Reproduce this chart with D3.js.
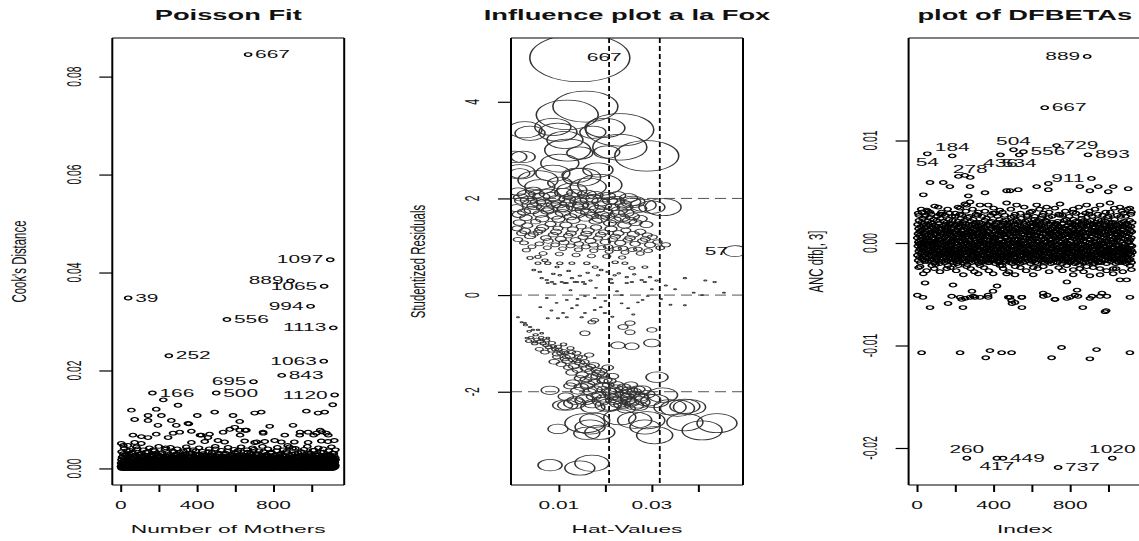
<!DOCTYPE html>
<html>
<head>
<meta charset="utf-8">
<script src="https://cdn.jsdelivr.net/npm/d3@7"></script>
<style>
body { margin: 0; background: #fff; }
svg text { font-family: "Liberation Sans", Arial, sans-serif; fill: #111; }
</style>
</head>
<body>
<svg id="chart" width="1139" height="541"></svg>
<script>
// Cook's distance for obs 1..1125 (units of 1e-4)
const cookD = [
4,11,2,18,7,0,23,9,3,14,6,1,30,12,5,0,16,8,2,21,10,3,27,6,13,
1,8,19,4,12,0,9,36,2,15,6,1,10,24,5,0,13,7,3,17,9,2,29,6,11,
7,2,14,0,22,5,10,1,18,3,33,8,0,12,6,20,2,9,15,1,26,4,11,0,8,
3,16,6,1,24,9,0,13,4,19,2,40,7,11,1,21,5,0,15,8,3,28,10,2,17,
9,0,12,5,20,1,7,31,3,14,0,10,6,23,2,18,4,9,0,16,7,2,25,11,5,
2,19,8,0,13,4,27,1,10,6,21,3,15,0,9,34,5,12,2,17,7,1,22,4,14,
6,1,15,3,25,0,11,8,2,18,5,13,0,29,7,4,20,1,10,6,38,3,12,0,16,
0,10,4,22,7,1,14,5,30,2,9,17,3,0,12,24,6,1,19,8,2,13,5,27,3,
11,3,18,0,8,26,4,13,1,20,6,0,15,9,2,32,5,11,3,21,0,7,16,4,10,
5,23,1,12,6,0,19,8,3,14,42,2,10,5,17,1,25,7,0,13,4,20,9,2,15,
8,2,16,4,28,0,11,6,1,21,9,3,14,0,24,5,12,2,18,7,1,35,10,4,13,
1,14,6,0,19,3,10,26,5,1,16,8,2,22,4,0,12,30,6,9,2,17,5,11,0,
12,4,20,1,9,15,0,7,33,3,13,5,18,2,10,0,23,6,1,14,8,27,3,11,4,
3,17,0,11,6,24,2,13,5,0,19,9,1,29,4,15,7,2,21,0,10,5,16,38,2,
9,1,13,5,22,0,8,17,3,12,6,1,26,10,4,18,0,14,7,2,31,5,11,1,20,
4,15,2,10,0,19,7,3,25,11,1,16,5,0,21,8,2,13,36,6,0,17,9,3,12,
0,11,6,23,2,14,1,9,18,4,0,28,7,12,3,20,5,1,15,8,2,24,10,0,13,
7,2,19,0,12,5,30,3,10,1,16,6,22,0,9,14,4,1,26,11,3,18,0,8,15,
2,13,5,21,1,9,0,17,6,34,3,12,1,19,7,0,24,10,4,15,2,11,28,5,0,
10,3,16,0,8,27,4,13,2,20,6,1,14,9,0,23,5,18,2,11,40,7,1,16,4,
6,0,12,3,25,8,1,15,5,19,0,10,31,4,13,2,22,7,0,17,9,3,12,1,21,
1,18,7,2,14,0,11,26,4,9,16,3,0,20,6,12,1,29,8,2,15,5,0,23,10,
13,4,0,22,6,10,2,17,35,1,12,5,19,0,8,25,3,14,6,1,20,9,2,11,0,
5,16,2,9,0,24,7,13,1,18,4,27,10,0,15,6,2,21,11,3,0,16,8,32,4,
0,10,19,3,12,5,1,23,8,0,14,6,20,2,11,37,4,9,1,17,7,0,13,26,3,
8,2,15,0,21,6,11,1,18,4,28,9,0,14,5,22,2,12,7,0,19,3,10,1,24,
3,12,6,25,0,9,16,2,13,5,0,20,8,33,1,11,4,17,0,26,6,2,14,9,1,
11,0,18,4,7,22,1,14,6,29,3,10,0,16,8,2,24,5,12,1,19,39,7,0,15,
4,20,1,13,9,0,17,5,26,2,11,7,1,21,4,15,0,30,8,3,12,6,18,2,10,
0,14,7,2,23,11,1,16,4,0,19,8,27,3,12,5,0,22,9,1,15,6,34,2,13,
9,3,17,0,12,6,24,2,15,1,20,5,10,0,28,7,3,13,1,18,8,0,25,4,11,
2,16,5,21,0,10,3,19,7,1,14,31,4,11,0,23,6,2,17,9,0,13,5,20,1,
12,0,9,4,26,1,15,7,2,18,5,0,22,10,3,36,6,14,1,8,20,2,11,4,16,
5,19,2,11,0,24,8,1,13,6,29,3,16,0,10,5,21,1,12,7,2,18,4,27,0,
7,1,14,3,20,9,0,17,5,12,2,25,8,1,15,4,0,19,11,32,3,13,6,0,22,
1,12,6,23,2,10,16,0,8,27,4,14,1,20,7,3,11,0,18,5,24,9,2,15,41,
10,4,18,0,13,5,1,21,8,2,16,30,6,11,0,19,3,14,7,1,25,5,12,0,17,
3,15,7,1,22,0,11,4,26,9,2,17,5,13,1,20,8,0,14,34,6,2,18,10,4,
0,9,19,5,12,2,24,7,1,16,4,11,0,28,6,13,3,21,9,1,15,0,23,7,12,
6,21,3,14,0,10,5,31,2,17,8,1,12,4,22,0,9,16,3,26,11,2,14,5,19,
2,11,25,0,8,15,4,1,20,6,13,3,37,7,0,18,10,2,23,5,12,1,16,8,27,
14,5,0,17,9,2,22,6,11,1,19,4,28,0,13,7,3,24,10,1,15,6,20,2,9,
4,18,8,1,26,3,12,0,16,7,33,2,14,5,21,1,10,6,0,19,12,3,25,8,15,
11,2,20,6,13,0,9,23,4,17,1,29,7,12,3,18,0,15,5,22,9,2,27,11,6,
3,16,1,24,8,12,0,19,5,31,14,2,21,7,10,1,26,4,17,9,13,3,22,6,18
];

// larger Cook's distances: [obs, value x1e-4]
const cookPts = [
[667,845],[1097,426],[889,383],[1065,372],[39,348],[994,331],[556,304],[1113,287],
[252,230],[1063,219],[843,190],[695,177],[166,154],[500,154],[1120,150],
[56,119],[73,100],[143,108],[186,121],[213,108],[223,140],[143,98],[195,88],[265,98],
[291,88],[300,129],[352,92],[357,91],[401,108],[492,115],[588,108],[623,96],[701,113],
[736,115],[597,84],[658,78],[780,86],[902,88],[972,117],[1033,113],[1068,115],[1110,130],
[64,68],[108,65],[143,63],[186,70],[3,51],[38,47],[73,53],[108,51],[248,63],[274,72],
[309,74],[370,76],[422,68],[457,63],[536,74],[571,80],[623,78],[745,74],[859,68],[937,68],
[981,74],[1024,72],[1077,72],[1118,57],
[370,53],[440,55],[509,57],[544,54],[649,56],[701,53],[754,55],[806,57],[841,54],[981,53],
[1050,56],[1085,55],
[14,47],[465,70],[415,68],[652,78],[625,68],[746,72],[712,54],[874,47],[909,54],[939,74],
[1044,78],[1010,68],[1053,75],[1087,68]
];
// ragged top of the dense band: [obs, value x1e-4]
const cookMid = [
[5,34],[18,41],[29,28],[47,37],[60,31],[82,44],[95,29],[118,38],[131,33],[150,42],[162,27],
[177,36],[199,45],[210,30],[232,39],[245,28],[261,43],[279,34],[296,40],[314,27],[328,36],
[343,44],[361,30],[379,38],[392,29],[410,42],[428,35],[446,27],[463,40],[478,32],[495,45],
[513,29],[527,37],[548,31],[562,43],[579,28],[594,39],[611,34],[630,44],[644,27],[661,38],
[679,31],[690,42],[708,29],[725,36],[742,45],[758,28],[771,40],[789,33],[803,27],[820,43],
[836,30],[851,38],[868,35],[883,44],[897,29],[915,41],[928,32],[944,27],[960,39],[977,45],
[991,30],[1006,37],[1019,28],[1035,42],[1048,33],[1061,40],[1074,27],[1090,36],[1103,44],
[1116,31],[1124,38],
[12,24],[40,26],[70,22],[105,25],[140,23],[170,26],[205,24],[240,22],[270,25],[305,23],
[335,26],[370,24],[400,22],[435,25],[470,23],[505,26],[540,24],[570,22],[605,25],[640,23],
[670,26],[700,24],[735,22],[765,25],[795,23],[830,26],[860,24],[890,22],[920,25],[955,23],
[985,26],[1015,24],[1045,22],[1080,25],[1110,23]
];
const cookLabels = [667,1097,889,1065,39,994,556,1113,252,1063,843,695,166,500,1120];
const cookLabelPos = [4,2,2,2,4,2,4,2,4,2,4,2,4,4,2];

// influence plot: [hat x1e-4, studentized residual x1e-2, Cook's D x1e-4]
const inflPts = [
[145,491,845],[157,390,357],[118,373,325],[38,335,76],[87,348,110],[231,342,391],[173,337,57],
[113,321,110],[289,288,346],[231,306,247],[23,286,49],[145,294,57],[203,296,57],[102,273,122],
[87,252,98],[139,248,76],[188,228,164],[16,252,34],[59,224,76],[102,232,49],[324,182,110],
[259,193,49],[281,186,57],[300,182,57],[27,342,98],[98,337,122],[199,346,135],[119,300,179],
[184,259,76],[149,244,122],[55,238,135],[163,224,110],[128,217,76],[5,286,49],[16,255,76],
[12,214,22],[30,208,27],[45,216,20],[62,203,25],[78,210,30],[95,198,22],[110,212,27],[128,204,20],
[142,195,25],[160,208,30],[175,200,22],[190,193,27],[205,205,20],[222,196,25],[238,188,22],
[250,201,27],[20,195,17],[38,188,22],[55,192,20],[70,182,25],[88,187,17],[105,180,22],[120,190,20],
[135,183,25],[150,176,17],[168,185,22],[182,178,20],[197,172,25],[215,182,17],[230,175,22],
[245,170,20],[8,180,17],[25,172,14],[42,176,20],[60,168,17],[75,174,14],[92,165,20],[108,170,17],
[125,162,14],[140,168,20],[157,160,17],[172,165,14],[188,158,20],[205,163,17],[220,156,14],
[236,160,20],[252,154,17],[265,150,14],
[18,202,18],[35,196,24],[52,209,21],[68,191,19],[85,204,26],[100,188,20],[118,199,23],[133,211,19],
[147,187,22],[165,197,27],[178,207,21],[195,185,24],[210,195,19],[226,206,23],[242,182,20],
[258,193,24],[272,179,21],[14,167,15],[29,160,13],[47,184,18],[64,158,15],[81,177,18],[99,157,14],
[113,179,19],[131,155,15],[146,185,20],[162,171,17],[179,153,14],[193,166,18],[210,149,14],
[226,168,18],[241,145,15],[258,163,17],[275,158,16],[288,146,14],
[15,150,12],[32,144,10],[50,152,8],[65,140,12],[82,147,10],[98,138,8],[115,145,12],[130,136,10],
[148,142,8],[163,133,12],[180,140,10],[196,130,8],[212,137,12],[228,128,10],[244,134,8],[260,126,12],
[275,131,10],[290,124,8],
[20,128,8],[38,122,10],[55,130,7],[72,118,9],[88,125,8],[104,116,10],[120,123,7],[136,114,9],
[152,120,8],[168,112,10],[184,118,7],[200,110,9],[216,116,8],[232,108,10],[248,114,7],[264,106,9],
[280,112,8],[296,104,10],[312,110,7],
[10,138,9],[27,133,10],[45,126,8],[60,135,10],[77,112,8],[94,131,10],[111,109,8],[126,128,9],
[143,106,7],[159,127,10],[174,104,8],[190,125,9],[206,100,7],[221,121,9],[238,97,7],[253,118,9],
[270,95,6],[286,116,8],[301,120,8],[318,98,6],[330,104,7],[12,115,7],[30,93,5],[66,86,5],[101,85,5],
[137,83,5],[170,81,5],[203,80,5],[236,78,4],
[25,108,6],[42,100,5],[58,106,6],[75,98,5],[92,104,6],[108,96,5],[125,102,6],[142,94,5],[158,100,6],
[175,92,5],[192,98,6],[208,90,5],[225,96,6],[242,88,5],[258,94,6],[275,86,5],[292,92,6],
[38,77,3],[55,79,3],[70,72,3],[55,66,2.5],[76,66,3],[102,66,3],[128,66,2.5],[160,66,3],[178,58,2.5],
[221,68,3],[242,66,2.5],[257,56,3],[285,58,2.5],
[63,35,0.8],[74,31,0.7],[85,27,0.8],[102,41,0.9],[113,25,0.7],[128,35,0.8],[139,27,0.7],[152,27,0.8],
[162,46,0.9],[184,41,0.8],[205,48,0.9],[220,41,0.8],[246,37,0.8],[257,27,0.7],[278,31,0.8],[296,37,0.8],
[371,35,0.8],[435,27,0.8],[76,25,0.6],[91,23,0.6],[106,27,0.6],[117,25,0.6],[134,27,0.6],[156,23,0.6],
[214,25,0.7],[246,25,0.7],[285,27,0.7],
[46,52,1],[59,48,0.9],[88,44,1],[96,58,1.2],[121,50,1],[145,40,0.8],[168,30,0.7],[191,52,1],[212,33,0.7],
[229,45,0.9],[262,43,0.8],[310,30,0.7],[330,20,0.6],[350,12,0.5],[390,5,0.5],[320,-8,0.4],[340,-20,0.5],
[270,-15,0.4],[200,-12,0.4],[140,-8,0.4],[95,-16,0.4],[60,-25,0.5],[84,-32,0.5],[190,-25,0.4],
[215,-45,0.6],[260,-40,0.6],[280,-10,0.4],[300,12,0.5],[180,15,0.5],[125,10,0.5],[225,8,0.5],
[415,30,0.6],[455,5,0.5],
[74,-6,0.3],[117,-10,0.3],[156,-2,0.3],[177,-6,0.3],[235,0,0.3],[291,-2,0.3],[371,-21,0.5],[408,0,0.5],
[128,-27,0.4],[139,-21,0.4],[156,-37,0.5],[109,-37,0.5],[177,-31,0.5],[235,-17,0.4],[249,-27,0.5],
[76,-48,0.6],[98,-48,0.6],[117,-46,0.6],[149,-46,0.7],[199,-37,0.7],
[12,-46,0.5],[20,-56,0.6],[27,-58,0.6],[38,-66,0.7],[44,-72,0.8],[55,-72,0.8],[63,-79,1],[31,-89,0.9],
[48,-97,1.1],[63,-93,1],[76,-89,1.1],
[35,-95,3],[48,-100,3],[60,-96,4],[72,-104,3],[85,-99,4],[98,-107,4],[110,-102,3],[125,-110,4],
[58,-112,5],[70,-118,6],[84,-114,5],[96,-122,7],[110,-117,6],[124,-126,8],[138,-120,6],[150,-130,8],
[165,-124,7],[90,-138,9],[105,-143,8],[118,-136,10],[132,-147,10],[145,-140,9],[160,-152,12],
[175,-145,10],[190,-158,13],[205,-150,11],[128,-160,12],[150,-165,13],[170,-170,12],[185,-162,14],
[200,-175,15],[215,-168,13],[130,-182,15],[148,-190,17],[162,-185,18],[178,-195,17],[192,-188,19],
[208,-200,20],[222,-193,18],[238,-205,21],[252,-198,22],[268,-208,21],[280,-196,24],
[115,-210,20],[135,-218,22],[155,-214,24],[172,-225,25],[190,-220,24],[210,-230,26],[228,-224,27],
[245,-235,28],[262,-228,30],
[40,-88,2],[52,-92,2.5],[66,-100,3],[78,-108,3.5],[92,-112,4],[104,-120,5],[116,-128,5],[130,-134,6],
[142,-128,5],[155,-138,7],[168,-148,8],[180,-155,9],[195,-165,10],[210,-178,12],[225,-185,13],
[240,-190,14],[255,-186,15],[270,-195,17],[95,-128,5],[112,-132,6],[140,-155,9],[158,-175,11],
[176,-180,12],[196,-196,15],[214,-210,17],[232,-214,19],[250,-218,20],[166,-200,15],[186,-206,17],
[120,-150,7],[145,-172,10],
[28,-62,1.2],[36,-75,1.5],[50,-82,2],[62,-88,2.2],[74,-94,2.5],[88,-106,3],[100,-113,3.5],[114,-120,4],
[128,-118,4.5],[140,-136,5.5],[152,-145,6],[166,-158,7.5],[180,-168,9],[194,-178,10],[206,-186,11],
[220,-198,13],[235,-196,14],[248,-210,16],[262,-200,17],[276,-212,19],[290,-205,20],[160,-188,14],
[175,-210,18],[196,-214,19],[218,-218,22],[236,-226,24],[254,-222,25],[272,-230,27],[140,-198,16],
[124,-188,13],
[81,-352,49],[145,-358,76],[171,-348,98],[98,-277,34],[167,-273,76],[160,-286,57],[188,-284,76],
[177,-259,76],[263,-259,98],[231,-253,87],[306,-290,110],[371,-263,110],[408,-280,135],[440,-265,135],
[339,-232,87],[371,-230,76],[306,-219,66],[270,-222,49],[119,-228,34],[156,-217,34],[311,-170,41],
[81,-197,27],[216,-203,34],[249,-203,22],[285,-273,76],[156,-265,135],[289,-259,110],
[108,-228,34],[134,-224,41],[173,-232,49],[206,-228,57],[231,-213,49],[263,-213,66],[291,-217,57],
[323,-207,76],[355,-234,98],[381,-232,87],
[227,-104,17],[257,-106,17],[300,-99,22],[238,-66,8],[253,-58,8],[253,-77,8],[300,-72,8],[156,-79,8],
[177,-52,5],[171,-56,5],
[479,91,45]
];
const inflLabels = ["667", "57"];
const inflLabelAt = [[145,491],[479,91]];
const inflLabelPos = [4, 2];
const hatCutoffs = [0.0208, 0.0317];
const residRefs = [-2, 0, 2];

// DFBETA for ANC coefficient, obs 1..1125 (units of 1e-4)
const dfbD = [
5,-12,18,-3,9,-17,1,14,-8,22,-1,-14,7,11,-6,3,-19,16,-10,0,12,-4,20,-15,6,
-9,13,-2,24,-13,4,-7,17,0,-16,10,-5,19,2,-11,8,-18,15,-1,27,-8,5,-14,11,-3,
16,-6,3,-15,21,-10,8,-2,13,-18,1,18,-7,-12,25,6,-4,10,-17,14,-9,2,20,-13,7,
-1,11,-16,5,-8,19,-3,15,-11,0,23,-6,9,-19,12,-2,4,-14,17,-9,8,-21,1,13,-5,
9,-15,22,-4,2,-10,16,-7,6,-17,11,-1,-13,19,3,-8,14,-20,7,0,-11,24,-5,10,-16,
3,-9,14,-18,8,28,-2,-12,17,-5,1,-15,10,5,-7,21,-13,-3,15,-19,6,-10,12,-1,18,
-14,7,-4,20,-11,2,13,-17,-6,9,-22,16,0,-9,11,-3,23,-15,4,-7,18,-12,8,-1,-18,
12,-5,19,-10,1,-16,6,15,-8,-2,22,-13,10,-19,4,14,-6,-11,17,2,-14,9,-4,26,-9,
0,-17,11,5,-12,18,-7,3,-20,13,-3,8,-15,21,-1,-10,16,6,-18,10,-5,19,-13,2,-8,
15,-2,-11,24,-6,9,-16,1,12,-9,17,-14,5,-4,20,-19,7,-1,13,-12,3,-7,22,-17,10,
-6,16,-13,2,19,-9,6,-18,10,-3,14,-1,-21,8,-12,25,-5,11,-16,3,17,-8,-2,12,-15,
8,-10,3,-14,21,-4,15,-7,0,-19,11,6,-12,18,-2,-16,9,-8,23,-1,4,-13,14,-6,19,
-3,12,-18,7,-9,16,-15,4,20,-11,-5,13,1,-17,9,-7,27,-13,5,-2,15,-20,10,0,-10,
20,-7,13,-1,-15,5,11,-12,17,-4,2,-19,8,14,-9,-3,19,-16,6,-11,12,1,-18,16,-6,
-12,4,-8,22,0,-14,9,-5,15,-18,7,-2,24,-10,3,-15,12,-7,18,-1,-19,11,-4,6,-13,
10,-19,17,-6,3,-11,20,-2,-14,8,-8,14,-17,1,21,-5,-12,7,-9,16,-3,29,-15,4,-10,
2,-13,6,-16,18,-1,-9,12,-20,5,15,-7,-3,19,-12,9,-18,0,13,-6,-14,20,-2,8,-17,
-8,15,-4,11,-19,23,3,-12,7,-6,16,-15,10,-1,-10,4,17,-13,1,-22,14,-5,9,-11,21,
13,-3,-16,8,-7,1,19,-18,11,-2,6,-10,22,-14,5,-9,15,-4,-17,12,0,-12,18,-6,3,
-15,9,-1,17,-11,-5,14,2,-19,20,-8,7,-13,11,-3,25,-16,4,-7,16,-12,1,-20,10,-4,
6,-11,21,-7,0,-17,12,-3,9,-14,18,-9,3,-18,14,-1,-6,10,-15,7,22,-10,-2,15,-19,
-2,18,-10,4,-16,13,-8,20,-4,1,-13,11,-20,6,17,-7,-1,24,-12,3,-17,9,-5,13,-9,
11,-6,2,-19,15,-12,5,-1,19,-15,8,-4,12,-10,0,-18,21,-8,14,-3,5,-14,16,-11,26,
-10,14,-15,7,-3,22,-9,10,-17,-2,13,4,-12,19,-6,8,-20,16,-1,-13,11,-7,2,-16,17,
4,-18,9,-8,20,-1,-14,16,3,-11,-5,23,-16,7,12,-4,-9,18,-19,5,-2,14,-12,21,-7,
-13,8,-5,15,-20,11,1,-9,22,-6,17,-16,2,-3,10,-14,19,-8,6,-17,13,-1,24,-10,3,
17,-4,12,-12,6,-18,14,-2,-7,9,-15,20,-10,4,-19,15,-5,1,-13,22,-8,7,-3,-16,12,
-7,21,-14,1,-10,16,-4,11,-18,6,-1,13,-8,25,-13,3,10,-17,8,-6,18,-11,0,-20,14,
9,-1,-17,13,-6,4,20,-13,8,-9,15,-3,-19,11,1,-12,17,-7,-15,10,-2,19,-14,5,-5,
-16,12,3,-11,19,-7,-2,14,-19,21,-5,9,-14,-1,16,-10,5,-16,13,-4,27,-12,6,-8,11,
1,-9,16,-15,7,-3,12,-20,10,-6,19,-12,4,15,-17,8,-1,-11,22,-7,3,-18,14,-2,-13,
14,-14,5,-5,23,-10,-16,9,-3,17,-9,0,12,-18,6,20,-6,-13,11,-1,15,-19,8,-10,2,
-4,19,-12,10,-18,2,15,-8,-14,7,-2,18,-17,13,-7,-11,23,-3,4,-15,9,-9,17,-20,6,
18,-8,-1,21,-13,11,-6,-19,16,-4,8,-15,1,20,-10,12,-16,5,-2,14,-21,10,-7,3,-12,
-11,3,13,-17,9,-2,-12,18,-9,24,-14,5,-6,16,-1,-19,11,-5,19,-13,2,-8,22,-16,7,
7,-16,20,-4,-10,14,-19,6,1,-12,17,-7,-15,10,-3,21,-11,13,-18,4,-5,16,-14,0,28,
-5,10,-13,17,-8,3,22,-15,12,-1,-18,9,-11,19,-4,6,-14,15,-7,-20,11,1,-9,18,-3,
12,-12,4,-20,15,-6,8,-1,-16,20,-10,13,2,-17,10,-3,-8,18,-13,7,-19,23,-4,12,-15,
-18,15,-7,9,-2,19,-14,3,-9,13,6,-19,22,-5,-12,11,-1,-16,14,-9,5,-3,17,-11,0,
5,-3,18,-13,11,-17,2,-8,21,-11,-4,16,-12,8,-20,14,-6,25,-14,1,-7,12,-17,9,-1,
-9,20,-6,14,-15,7,-11,17,-2,-18,10,-7,15,-13,3,-5,19,-10,6,-16,13,-1,20,-12,4,
16,-10,1,-16,12,-4,23,-14,5,-8,14,-20,9,-2,18,-15,-7,11,-3,17,-12,3,-18,8,-6,
-2,11,-19,6,-9,15,-13,10,-5,19,-17,2,-10,26,-6,9,-15,4,-11,20,-4,-19,13,-8,16,
8,-15,13,-3,21,-12,-7,16,-18,4,-1,18,-14,11,-9,-4,15,-20,7,-13,19,-6,10,-17,1,
-14,6,-8,17,-11,1,14,-17,9,-5,22,-10,3,-16,12,-2,-12,16,-7,5,-19,11,-3,20,-9
];

// larger DFBETAs: [obs, value x1e-4]
const dfbPts = [
[889,182],[667,132],[184,85],[54,87],[504,91],[556,89],[729,95],[893,86],[278,64],[436,86],
[534,86],[911,63],[260,-210],[417,-210],[449,-210],[737,-219],[1020,-210],
[33,47],[68,59],[137,59],[172,55],[216,65],[277,55],[268,46],[355,49],[468,51],[486,51],[529,52],
[625,55],[686,58],[686,52],[851,55],[903,51],[947,55],[999,50],[1025,55],[1103,53],[250,66],
[51,32],[111,35],[225,34],[260,37],[329,37],[372,37],[433,32],[468,39],[520,37],[625,37],[677,35],
[747,38],[816,33],[886,37],[956,37],[1008,39],[1060,35],[1112,34],[277,40],[250,38],
[6,29],[26,30],[68,30],[120,28],[170,29],[224,28],[320,30],[407,29],[512,28],[590,30],[660,29],
[740,28],[815,30],[880,29],[945,28],[1010,30],[1080,29],[1120,30],
[42,-39],[188,-41],[418,-42],[783,-38],[2,-51],[31,-53],[225,-53],[251,-54],[277,-53],[303,-53],
[329,-53],[371,-51],[287,-47],[397,-47],[486,-53],[512,-58],[548,-53],[659,-49],[680,-51],[721,-55],
[783,-54],[836,-46],[841,-52],[914,-52],[966,-49],[992,-52],[1112,-53],[68,-63],[162,-59],[240,-63],
[496,-59],[548,-63],[866,-63],[982,-67],[988,-66],
[16,-23],[77,-22],[155,-25],[216,-22],[259,-23],[329,-22],[433,-22],[512,-23],[607,-24],[660,-23],
[782,-22],[816,-26],[886,-23],[956,-25],[1025,-25],[1112,-22],[33,-30],[242,-31],[320,-30],[398,-30],
[468,-30],[512,-31],[607,-31],[816,-31],[903,-32],[956,-31],[1025,-30],[1060,-36],[1095,-36],
[24,-107],[225,-107],[381,-105],[442,-107],[494,-107],[359,-112],[703,-112],[755,-102],[903,-113],
[938,-104],[1112,-107],
[181,-52],[233,-55],[294,-52],[372,-53],[477,-53],[494,-56],[547,-53],[660,-52],[720,-55],[799,-53],
[825,-51],[903,-54],[956,-52]
];
// edges of the dense band: [obs, value x1e-4]
const dfbMid = [
[10,27],[22,33],[40,26],[58,31],[75,28],[92,36],[105,26],[128,30],[146,27],[160,33],[183,26],
[200,29],[214,35],[236,27],[255,31],[273,26],[290,33],[308,28],[340,26],[355,31],[385,27],[400,34],
[420,26],[446,30],[458,27],[490,33],[505,26],[540,29],[560,35],[575,27],[600,31],[615,26],[640,33],
[655,27],[690,30],[705,26],[720,34],[760,27],[775,31],[795,26],[830,29],[845,35],[860,27],[900,31],
[915,26],[930,33],[970,27],[985,30],[1000,26],[1030,34],[1045,27],[1070,31],[1090,26],[1100,33],
[1117,28],
[8,-24],[50,-27],[90,-25],[120,-28],[175,-24],[205,-27],[280,-25],[300,-28],[350,-24],[375,-27],
[450,-25],[480,-28],[540,-24],[570,-27],[630,-25],[690,-28],[740,-24],[760,-27],[850,-25],[870,-28],
[920,-24],[990,-27],[1040,-25],[1075,-28],[1120,-26]
];
const dfbLabels = [889,667,184,54,504,556,729,893,278,436,534,911,260,417,449,737,1020];
const dfbLabelPos = [2,4,3,1,3,4,4,4,3,1,1,2,3,1,4,4,3];

// axes
const idxTicks = [0,200,400,600,800,1000];
const idxLabels = [0,400,800];
const cookTicks = [0,0.02,0.04,0.06,0.08];
const hatTicks = [0.01,0.02,0.03,0.04];
const hatLabels = [0.01,0.03];
const residTicks = [-2,0,2,4];
const dfbTicks = [-0.02,-0.01,0,0.01];
const nObs = 1125;

// ---------------------------------------------------------------
const svg = d3.select("#chart");
const plotTop = 38, plotBottom = 485;
const stretch = 1.8; // the figure is wider than tall: round marks come out as ellipses

const tickSt = { size: 11, kx: 1.9, ky: 0.94 };
const titleSt = { size: 15, kx: 1.82, ky: 1.0, bold: true };
const axisSt = { size: 12, kx: 1.9, ky: 0.95 };
const yAxisSt = { size: 12, kx: 1.7, ky: 0.95 };

function stext(g, x, y, s, st, anchor, rot) {
	g.append("text")
		.attr("transform", "translate(" + x + "," + y + ") scale(" + st.kx + "," + st.ky + ")" + (rot ? " rotate(-90)" : ""))
		.attr("text-anchor", anchor || "middle")
		.attr("dy", "0.35em")
		.attr("font-size", st.size)
		.attr("font-weight", st.bold ? "bold" : null)
		.text(s);
}

function frame(p, id) {
	const g = svg.append("g");
	const x = d3.scaleLinear().domain(p.xDomain).range([p.left, p.right]);
	const y = d3.scaleLinear().domain(p.yDomain).range([plotBottom, plotTop]);

	const xa = g.append("g").attr("transform", "translate(0," + plotBottom + ")")
		.call(d3.axisBottom(x).tickValues(p.xTicks).tickSize(7).tickFormat(""));
	xa.select(".domain").remove();
	xa.selectAll("line").attr("stroke", "#000").attr("stroke-width", 2);

	const ya = g.append("g").attr("transform", "translate(" + p.left + ",0)")
		.call(d3.axisLeft(y).tickValues(p.yTicks).tickSize(13).tickFormat(""));
	ya.select(".domain").remove();
	ya.selectAll("line").attr("stroke", "#000").attr("stroke-width", 1.2);

	p.xLabels.forEach((v) => stext(g, x(v), 505, p.xFmt(v), tickSt));
	p.yTicks.forEach((v) => stext(g, p.left - 39, y(v), p.yFmt(v), tickSt, "middle", true));

	stext(g, (p.left + p.right) / 2, 15, p.title, titleSt);
	stext(g, (p.left + p.right) / 2, 529, p.xTitle, axisSt);
	stext(g, p.left - 93, (plotTop + plotBottom) / 2, p.yTitle, yAxisSt, "middle", true);

	svg.append("clipPath").attr("id", id)
		.append("rect").attr("x", p.left).attr("y", plotTop)
		.attr("width", p.right - p.left).attr("height", plotBottom - plotTop);
	const body = g.append("g").attr("clip-path", "url(#" + id + ")");

	// box
	const box = g.append("g").attr("stroke", "#000").attr("fill", "none");
	box.append("line").attr("x1", p.left).attr("x2", p.left).attr("y1", plotTop).attr("y2", plotBottom).attr("stroke-width", 2);
	box.append("line").attr("x1", p.right).attr("x2", p.right).attr("y1", plotTop).attr("y2", plotBottom).attr("stroke-width", 2);
	box.append("line").attr("x1", p.left).attr("x2", p.right).attr("y1", plotTop).attr("y2", plotTop).attr("stroke-width", 1.2);
	box.append("line").attr("x1", p.left).attr("x2", p.right).attr("y1", plotBottom).attr("y2", plotBottom).attr("stroke-width", 1.2);

	return { x, y, g, body };
}

function dots(body, data, x, y) {
	body.selectAll(null)
		.data(data)
		.enter()
		.append("circle")
		.attr("transform", (d) => "translate(" + x(d[0]) + "," + y(d[1]) + ") scale(" + stretch + ",1)")
		.attr("r", 1.9)
		.attr("fill", "none")
		.attr("stroke", "#000")
		.attr("stroke-width", 1.05);
}

function pointLabel(g, px, py, s, pos) {
	if (pos === 4) stext(g, px + 7, py, s, tickSt, "start");
	else if (pos === 2) stext(g, px - 7, py, s, tickSt, "end");
	else if (pos === 3) stext(g, px, py - 8.5, s, tickSt, "middle");
	else stext(g, px, py + 8.5, s, tickSt, "middle");
}

const fmt2 = (v) => v.toFixed(2);
const fmtInt = (v) => String(v);

// ---- Panel 1: Cook's distance
const xPad = 0.04 * (nObs - 1);
const cookMax = 845e-4;
const p1 = frame({
	left: 112.3, right: 344.2,
	xDomain: [1 - xPad, nObs + xPad], yDomain: [-0.04 * cookMax, 1.04 * cookMax],
	xTicks: idxTicks, xLabels: idxLabels, xFmt: fmtInt,
	yTicks: cookTicks, yFmt: fmt2,
	title: "Poisson Fit", xTitle: "Number of Mothers", yTitle: "Cook's Distance"
}, "clip1");

dots(p1.body, cookD.map((v, i) => [i + 1, v * 1e-4]), p1.x, p1.y);
dots(p1.body, cookMid.map((d) => [d[0], d[1] * 1e-4]), p1.x, p1.y);
dots(p1.body, cookPts.map((d) => [d[0], d[1] * 1e-4]), p1.x, p1.y);
cookLabels.forEach((obs, k) => {
	const d = cookPts.find((c) => c[0] === obs);
	pointLabel(p1.g, p1.x(d[0]), p1.y(d[1] * 1e-4), String(obs), cookLabelPos[k]);
});

// ---- Panel 2: influence plot
const p2 = frame({
	left: 511, right: 743,
	xDomain: [-0.0003, 0.0496], yDomain: [-3.93, 5.32],
	xTicks: hatTicks, xLabels: hatLabels, xFmt: fmt2,
	yTicks: residTicks, yFmt: fmtInt,
	title: "Influence plot a la Fox", xTitle: "Hat-Values", yTitle: "Studentized Residuals"
}, "clip2");

residRefs.forEach((r) => {
	p2.body.append("line")
		.attr("x1", 511).attr("x2", 743).attr("y1", p2.y(r)).attr("y2", p2.y(r))
		.attr("stroke", "#555").attr("stroke-width", 1).attr("stroke-dasharray", "11,6");
});
hatCutoffs.forEach((h) => {
	p2.body.append("line")
		.attr("x1", p2.x(h)).attr("x2", p2.x(h)).attr("y1", plotTop).attr("y2", plotBottom)
		.attr("stroke", "#000").attr("stroke-width", 1.8).attr("stroke-dasharray", "5,3");
});

// bubble width grows with sqrt(Cook's D); drawn as circles squeezed like the rest of the figure
const bubble = d3.scaleSqrt().domain([0, 845]).range([0, 50]);
const bubbleSq = 2.1;
p2.body.selectAll(null)
	.data(inflPts)
	.enter()
	.append("circle")
	.attr("transform", (d) => "translate(" + p2.x(d[0] * 1e-4) + "," + p2.y(d[1] * 1e-2) + ") scale(" + bubbleSq + ",1)")
	.attr("r", (d) => Math.max(0.55, bubble(d[2]) / bubbleSq))
	.attr("fill", "none")
	.attr("stroke", "#333")
	.attr("stroke-width", 0.75);

inflLabels.forEach((s, k) => {
	const d = inflLabelAt[k];
	pointLabel(p2.g, p2.x(d[0] * 1e-4), p2.y(d[1] * 1e-2), s, inflLabelPos[k]);
});

// ---- Panel 3: DFBETAs
const p3 = frame({
	left: 908.6, right: 1141,
	xDomain: [1 - xPad, nObs + xPad], yDomain: [-0.02361, 0.0200],
	xTicks: idxTicks, xLabels: idxLabels, xFmt: fmtInt,
	yTicks: dfbTicks, yFmt: fmt2,
	title: "plot of DFBETAs", xTitle: "Index", yTitle: "ANC dfb[, 3]"
}, "clip3");

dots(p3.body, dfbD.map((v, i) => [i + 1, v * 1e-4]), p3.x, p3.y);
dots(p3.body, dfbMid.map((d) => [d[0], d[1] * 1e-4]), p3.x, p3.y);
dots(p3.body, dfbPts.map((d) => [d[0], d[1] * 1e-4]), p3.x, p3.y);
dfbLabels.forEach((obs, k) => {
	const d = dfbPts.find((c) => c[0] === obs);
	pointLabel(p3.g, p3.x(d[0]), p3.y(d[1] * 1e-4), String(obs), dfbLabelPos[k]);
});
</script>
</body>
</html>
